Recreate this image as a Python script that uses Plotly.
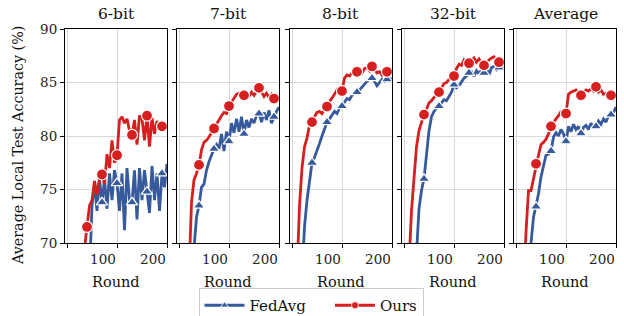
import plotly.graph_objects as go
from plotly.subplots import make_subplots

rounds = list(range(0, 201, 5))
marker_rounds = [40, 70, 100, 130, 160, 190]
titles = ["6-bit", "7-bit", "8-bit", "32-bit", "Average"]

ours_6 = [20, 30, 40, 48, 54, 60, 64, 69.5, 71.5, 73.5, 74, 75.8, 74.5, 76, 76.4, 75.5, 78.3, 77, 79.6, 77.5,
          78.2, 81.5, 81.8, 81.2, 81.6, 80.5, 80.1, 81.5, 79.2, 81.9, 81.6, 79.6, 81.9, 79.0, 81.7, 80.2, 81.4, 80.7,
          80.9, 81.2, 80.8]
fedavg_6 = [15, 20, 25, 30, 35, 40, 45, 50, 60, 67, 73.5, 75.5, 73, 76, 73.8, 76, 73.2, 76.5, 74, 76.8,
            75.6, 73, 76.5, 71.2, 77, 74, 73.8, 76.8, 72.2, 77, 74, 76.8, 74.8, 72.8, 77.2, 74, 76.5, 73,
            76.5, 75.2, 77.4]

ours_7 = [20, 35, 48, 58, 67, 73.8, 75.9, 76.5, 77.3, 78.7, 79.4, 79.6, 79.9, 80.3, 80.7, 81.2, 81.6, 81.9, 82.2, 82.1,
          82.8, 83.2, 83.6, 83.9, 84.0, 83.8, 83.8, 84.0, 83.7, 84.1, 83.8, 84.2, 84.5, 84.1, 83.7, 84.0, 83.6, 83.9,
          83.5, 83.7, 83.4]
fedavg_7 = [15, 25, 38, 48, 56, 63, 69.5, 72.4, 73.5, 75.2, 75.5, 76.8, 77.6, 78.3, 78.8, 79.2, 78.8, 80.2, 78.6, 80.4,
            79.5, 81.2, 80.3, 81.6, 80.4, 81.8, 80.2, 81.5, 80.8, 81.6, 81.2, 81.9, 82.1, 81.3, 82.2, 81.5, 82.4, 81.2,
            81.8, 82.3, 82.7]

ours_8 = [30, 50, 67, 73.5, 77, 79, 79.8, 81, 81.3, 81.8, 82.2, 82.3, 82.1, 82.5, 82.75, 83.2, 83.5, 83.9, 84.3, 84.0,
          84.2, 85.4, 85.7, 85.6, 85.9, 85.8, 86.0, 86.1, 85.9, 86.3, 86.4, 86.1, 86.5, 86.3, 85.9, 86.0, 85.7, 86.1,
          86.0, 85.9, 86.0]
fedavg_8 = [20, 35, 50, 60, 67, 71.5, 74, 75.8, 77.5, 78, 78.6, 79.3, 80, 80.7, 81.3, 81.6, 82.0, 82.3, 82.1, 82.6,
            82.8, 83.2, 83.5, 83.4, 83.8, 84.0, 84.1, 84.3, 84.6, 84.9, 85.1, 85.3, 85.4, 85.1, 84.7, 85.0, 85.3, 85.1,
            85.3, 85.4, 85.3]

ours_32 = [30, 50, 68, 73, 76, 79, 80.5, 81.3, 82.0, 82.5, 83.1, 83.3, 83.6, 83.9, 84.1, 84.5, 84.9, 85.0, 85.3, 85.4,
           85.6, 86.3, 86.7, 86.6, 87.1, 86.8, 86.8, 87.0, 87.3, 86.9, 87.2, 86.8, 86.6, 86.9, 87.1, 87.3, 87.4, 87.1,
           86.9, 87.2, 87.0]
fedavg_32 = [20, 30, 42, 52, 62, 69, 73.2, 74.9, 76.0, 78, 80.5, 81.8, 82.3, 82.6, 82.8, 83.1, 83.4, 83.3, 83.7, 84.1,
             84.8, 84.5, 84.7, 85.1, 85.4, 85.6, 85.9, 86.0, 85.6, 86.1, 85.8, 86.2, 85.9, 86.3, 85.7, 86.4, 86.5, 86.2,
             86.4, 86.3, 86.4]

ours_avg = [20, 40, 55, 65, 71, 74.9, 74.9, 76, 77.4, 78.2, 79.2, 79.4, 79.7, 80.2, 80.9, 81.3, 81.6, 81.9, 82.3, 81.8,
            82.1, 83.9, 84.1, 84.2, 84.3, 84.0, 83.8, 84.1, 84.3, 84.2, 84.4, 84.2, 84.6, 84.1, 84.3, 83.9, 84.0, 83.8,
            83.8, 83.9, 83.7]
fedavg_avg = [15, 28, 40, 50, 58, 64, 70, 72.4, 73.4, 74.6, 76.2, 77.3, 78.2, 78.3, 78.6, 79.9, 80.3, 80.0, 80.6, 80.2,
              79.5, 80.9, 80.4, 81.1, 80.6, 80.9, 80.25, 80.8, 81.0, 80.6, 81.2, 80.8, 80.9, 81.4, 81.1, 81.6, 81.3, 81.9,
              82.0, 82.2, 82.7]

fedavg_series = [fedavg_6, fedavg_7, fedavg_8, fedavg_32, fedavg_avg]
ours_series = [ours_6, ours_7, ours_8, ours_32, ours_avg]

BLUE = "#365a9c"
RED = "#d61f1f"
FONT = "DejaVu Serif, Liberation Serif, serif"

fig = make_subplots(rows=1, cols=5, shared_yaxes=False)

W, H = 624, 316
x_px = [(65, 167), (177, 279), (290, 392), (402, 504), (514, 616)]
y_top, y_bot = 29, 243

for i in range(5):
    col = i + 1
    for series, color, symbol, msize in [(fedavg_series[i], BLUE, "triangle-up", 10),
                                         (ours_series[i], RED, "circle", 11)]:
        fig.add_trace(go.Scatter(x=rounds, y=series, mode="lines",
                                 line=dict(color=color, width=2.8),
                                 showlegend=False, hoverinfo="skip"), row=1, col=col)
        my = [series[rounds.index(r)] for r in marker_rounds]
        fig.add_trace(go.Scatter(x=marker_rounds, y=my, mode="markers",
                                 marker=dict(color=color, symbol=symbol, size=msize,
                                             line=dict(color="white", width=1.2)),
                                 showlegend=False, hoverinfo="skip"), row=1, col=col)

# legend entries
fig.add_trace(go.Scatter(x=[None], y=[None], mode="lines+markers", name="FedAvg\u00a0\u00a0\u00a0\u00a0",
                         line=dict(color=BLUE, width=3),
                         marker=dict(color=BLUE, symbol="triangle-up", size=7,
                                     line=dict(color="white", width=0.8))), row=1, col=1)
fig.add_trace(go.Scatter(x=[None], y=[None], mode="lines+markers", name="Ours",
                         line=dict(color=RED, width=3),
                         marker=dict(color=RED, symbol="circle", size=7,
                                     line=dict(color="white", width=0.8))), row=1, col=1)

axis_common = dict(showline=True, mirror=True, linecolor="black", linewidth=1,
                   ticks="outside", ticklen=4, tickcolor="black", automargin=False,
                   showgrid=True, gridcolor="#d9d9d9", gridwidth=1.3, zeroline=False,
                   tickfont=dict(family=FONT, size=13.5, color="#222"))

for i in range(5):
    xa = "xaxis" if i == 0 else f"xaxis{i+1}"
    ya = "yaxis" if i == 0 else f"yaxis{i+1}"
    x0, x1 = x_px[i]
    fig.layout[xa].update(domain=[x0 / W, x1 / W], range=[-4, 200],
                          tickvals=[0, 100, 200], ticktext=["", "100", "200"],
                          ticklabelshift=-14, **axis_common)
    fig.layout[ya].update(domain=[1 - y_bot / H, 1 - y_top / H], range=[70, 90],
                          tickvals=[70, 75, 80, 85, 90],
                          showticklabels=(i == 0), **axis_common)
    cx = (x0 + x1) / 2 / W
    fig.add_annotation(text=titles[i], x=cx, y=1 - 14 / H, xref="paper", yref="paper",
                       xanchor="center", yanchor="middle",
                       showarrow=False, font=dict(family=FONT, size=15.5, color="#111"))
    fig.add_annotation(text="Round", x=cx, y=1 - 282 / H, xref="paper", yref="paper",
                       xanchor="center", yanchor="middle",
                       showarrow=False, font=dict(family=FONT, size=14.5, color="#111"))

fig.add_annotation(text="Average Local Test Accuracy (%)", x=18 / W, y=1 - 146 / H,
                   xref="paper", yref="paper", showarrow=False, textangle=-90,
                   xanchor="center", yanchor="middle",
                   font=dict(family=FONT, size=14.3, color="#111"))

fig.update_layout(width=W, height=H, margin=dict(l=0, r=0, t=0, b=0, autoexpand=False),
                  paper_bgcolor="white", plot_bgcolor="white",
                  font=dict(family=FONT),
                  legend=dict(orientation="h", x=311 / W, xanchor="center", y=1 - 288 / H, yanchor="top",
                              bordercolor="#cccccc", borderwidth=1, bgcolor="white",
                              font=dict(family=FONT, size=15, color="#111"),
                              itemwidth=40, tracegroupgap=0))

fig.write_html("out.html", config={"displayModeBar": False},
               post_script="document.body.style.margin='0';document.body.style.overflow='hidden';")
